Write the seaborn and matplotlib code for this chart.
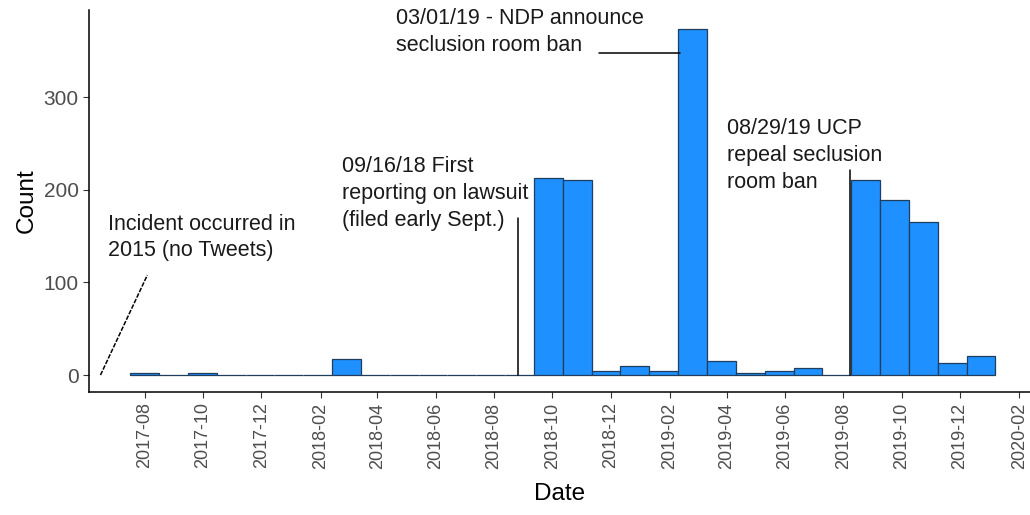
import numpy as np
import pandas as pd
import seaborn as sns
import matplotlib
matplotlib.use("Agg")
import matplotlib.pyplot as plt
import matplotlib.dates as mdates

sns.set_style("white")
plt.rcParams['font.family'] = ['Liberation Sans', 'DejaVu Sans']

# tweets per ~30-day bin (30 bins, first bin starts mid July 2017)
bin_start = "2017-07-17"
bin_days = 30.13
counts = [2, 0, 2, 0, 0, 0, 0, 17, 0, 0,
          0, 0, 0, 0, 213, 211, 4, 10, 4, 374,
          15, 2, 4, 8, 0, 210, 189, 165, 13, 21]

# annotations: (text, text x date, text top y)
notes = [
    ("Incident occurred in\n2015 (no Tweets)", "2017-06-24", 174),
    ("09/16/18 First\nreporting on lawsuit\n(filed early Sept.)", "2018-02-23", 236),
    ("03/01/19 - NDP announce\nseclusion room ban", "2018-04-21", 396),
    ("08/29/19 UCP\nrepeal seclusion\nroom ban", "2019-04-01", 277),
]
# annotation lines: (x0 date, y0, x1 date, y1, style)
lines = [
    ("2017-06-16", 0, "2017-08-04", 108, (0, (3, 1))),
    ("2018-08-26", 0, "2018-08-26", 169, "-"),
    ("2018-11-19", 348, "2019-02-11", 348, "-"),
    ("2019-08-08", 0, "2019-08-08", 221, "-"),
]

start = mdates.date2num(pd.Timestamp(bin_start))
edges = start + bin_days * np.arange(len(counts) + 1)
centers = (edges[:-1] + edges[1:]) / 2
df = pd.DataFrame({"date": centers, "n": counts})

fig = plt.figure(figsize=(10.3, 5.15), dpi=100)
ax = fig.add_axes([0.0864, 0.2388, 0.9136, 0.7418])

sns.histplot(data=df, x="date", weights="n", bins=list(edges), ax=ax,
             color="#1E90FF", alpha=1, edgecolor="#1F3D5C", linewidth=0.9)

for x0, y0, x1, y1, ls in lines:
    ax.plot([mdates.date2num(pd.Timestamp(x0)), mdates.date2num(pd.Timestamp(x1))],
            [y0, y1], color="black", lw=1.1, linestyle=ls)

for txt, xd, y in notes:
    ax.text(mdates.date2num(pd.Timestamp(xd)), y, txt, ha="left", va="top",
            fontsize=15.5, color="#1a1a1a", linespacing=1.35)

ax.set_xlim(mdates.date2num(pd.Timestamp("2017-06-04")),
            mdates.date2num(pd.Timestamp("2020-02-12")))
ax.set_ylim(-18.3, 394)
ax.set_yticks([0, 100, 200, 300])
ax.xaxis.set_major_locator(mdates.MonthLocator(bymonth=[2, 4, 6, 8, 10, 12]))
ax.xaxis.set_major_formatter(mdates.DateFormatter("%Y-%m"))
plt.setp(ax.get_xticklabels(), rotation=90, ha="center")

ax.tick_params(axis="both", which="major", labelcolor="#4D4D4D",
               color="#333333", length=4, width=0.8, bottom=True, left=True)
ax.tick_params(axis="x", labelsize=13)
ax.tick_params(axis="y", labelsize=15)
ax.set_xlabel("Date", fontsize=17.5, color="black", labelpad=10)
ax.set_ylabel("Count", fontsize=17.5, color="black", labelpad=4)
sns.despine(ax=ax)
for s in ["left", "bottom"]:
    ax.spines[s].set_color("black")
    ax.spines[s].set_linewidth(1.1)

fig.savefig("out.png", dpi=100)
